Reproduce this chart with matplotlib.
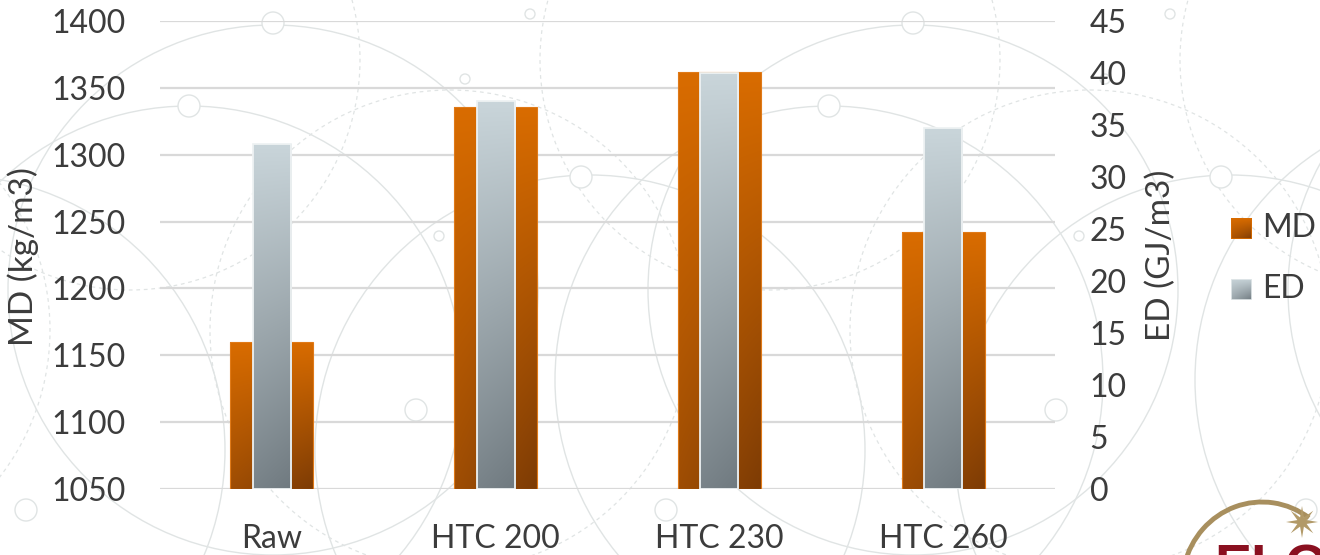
import numpy as np
import matplotlib
matplotlib.use("Agg")
import matplotlib.pyplot as plt
import matplotlib.patches as patches
from matplotlib.colors import to_rgb

plt.rcParams['font.family'] = ['Lato', 'DejaVu Sans']

categories = ['Raw', 'HTC 200', 'HTC 230', 'HTC 260']
md_values = [1160, 1336, 1362, 1242]     # kg/m3
ed_values = [33.2, 37.3, 40.0, 34.7]     # GJ/m3

md_ticks = np.arange(1050, 1401, 50)
ed_ticks = np.arange(0, 46, 5)

text_color = '#3C3C3C'
grid_color = '#D9D9D9'
pattern_color = '#E0E4E4'
orange_top, orange_bot = '#D96C00', '#7E3C05'
gray_top, gray_bot = '#C9D5DA', '#707A80'
fs = 23

W, H = 1320, 555
fig = plt.figure(figsize=(W / 100, H / 100), dpi=100)
fig.patch.set_facecolor('white')


def px(x, y):
    # pixel position (from top-left) -> figure fraction
    return x / W, 1 - y / H


# decorative background: repeating circle network
bg = fig.add_axes([0, 0, 1, 1], zorder=0)
bg.set_xlim(0, W)
bg.set_ylim(H, 0)
bg.axis('off')

solid = [(273, 290, 265), (590, 450, 275), (189, 380, 274)]
dashed = [(450, 330, 240), (130, 60, 230)]
nodes = [(273, 23, 11), (189, 106, 11), (581, 177, 11), (416, 410, 11), (26, 510, 11),
         (530, 14, 5), (465, 79, 5), (439, 236, 5)]
for k in range(-1, 3):
    off = 640 * k
    for cx, cy, r in solid:
        bg.add_patch(patches.Circle((cx + off, cy), r, fill=False, ec=pattern_color, lw=1.0))
    for cx, cy, r in dashed:
        bg.add_patch(patches.Circle((cx + off, cy), r, fill=False, ec=pattern_color, lw=0.9,
                                    ls=(0, (3, 3))))
    for cx, cy, r in nodes:
        bg.add_patch(patches.Circle((cx + off, cy), r, fc='white', ec=pattern_color, lw=1.0, zorder=3))

# logo in the lower right corner
bg.add_patch(patches.Arc((1262, 585), 160, 166, theta1=195, theta2=305, color='#A88F5E', lw=3.5, zorder=4))
star_r = np.where(np.arange(16) % 2 == 0, 16, 5)
star_a = np.linspace(0, 2 * np.pi, 17)[:-1] + np.pi / 2
bg.add_patch(patches.Polygon(np.c_[1302 + star_r * np.cos(star_a), 522 - star_r * np.sin(star_a)],
                             closed=True, fc='#B29A68', ec='none', zorder=5))
bg.text(1214, 544, 'ELO', color='#8A1020', fontsize=40, fontweight='bold', va='top', ha='left',
        zorder=5, family='Liberation Sans')

# main axes
ax = fig.add_axes([160 / W, 1 - 489 / H, (1055 - 160) / W, (489 - 21) / H], zorder=1)
ax.patch.set_visible(False)
ax2 = ax.twinx()
ax2.set_zorder(2)
ax2.patch.set_visible(False)

x = np.arange(len(categories))


def gradient_bar(axis, xc, bottom, top, width, c_top, c_bot, diag, edge, lw, z):
    v = np.linspace(0, 1, 80)[:, None]
    h = np.linspace(0, 1, 20)[None, :]
    t = v * (1 - diag + diag * h)
    ct, cb = np.array(to_rgb(c_top)), np.array(to_rgb(c_bot))
    img = ct[None, None, :] * (1 - t[..., None]) + cb[None, None, :] * t[..., None]
    im = axis.imshow(img, extent=(xc - width / 2, xc + width / 2, bottom, top), origin='upper',
                     aspect='auto', interpolation='bilinear', zorder=z)
    rect = patches.Rectangle((xc - width / 2, bottom), width, top - bottom, fc='none',
                             ec=edge, lw=lw, zorder=z + 0.1)
    axis.add_patch(rect)
    im.set_clip_path(rect)


for xi, v in zip(x, md_values):
    gradient_bar(ax, xi, md_ticks[0], v, 0.37, orange_top, orange_bot, 0.35, '#E07A18', 0.8, 2)
for xi, v in zip(x, ed_values):
    gradient_bar(ax2, xi, ed_ticks[0], v, 0.17, gray_top, gray_bot, 0.1, '#EEF2F3', 1.3, 2)

ax.set_xlim(-0.5, len(categories) - 0.5)
ax.set_ylim(md_ticks[0], md_ticks[-1])
ax2.set_ylim(ed_ticks[0], ed_ticks[-1])

ax.set_yticks(md_ticks)
ax2.set_yticks(ed_ticks)
ax.set_xticks(x)
ax.set_xticklabels(categories)

ax.yaxis.grid(True, color=grid_color, lw=1.6, zorder=0)
ax.set_axisbelow(True)
for a in (ax, ax2):
    for s in a.spines.values():
        s.set_visible(False)
ax.tick_params(axis='y', length=0, pad=25, labelsize=fs, labelcolor=text_color)
ax.tick_params(axis='x', length=0, pad=25, labelsize=fs, labelcolor=text_color)
ax2.tick_params(axis='y', length=0, pad=25, labelsize=fs, labelcolor=text_color)

fig.text(*px(23, 257), 'MD (kg/m3)', rotation=90, ha='center', va='center', fontsize=fs + 1, color=text_color)
fig.text(*px(1161, 255), 'ED (GJ/m3)', rotation=90, ha='center', va='center', fontsize=fs + 1, color=text_color)

# legend
for label, (c_top, c_bot), y0 in [('MD', (orange_top, orange_bot), 218), ('ED', (gray_top, gray_bot), 279)]:
    lax = fig.add_axes([1231 / W, 1 - (y0 + 21) / H, 21 / W, 21 / H], zorder=3)
    lax.axis('off')
    gradient_bar(lax, 0.5, 0, 1, 1, c_top, c_bot, 0.5, c_top if label == 'MD' else '#E2E8EA', 1.2, 2)
    lax.set_xlim(0, 1)
    lax.set_ylim(0, 1)
    fig.text(*px(1262, y0 + 10), label, ha='left', va='center', fontsize=fs, color=text_color)

fig.savefig('out.png', dpi=100)
